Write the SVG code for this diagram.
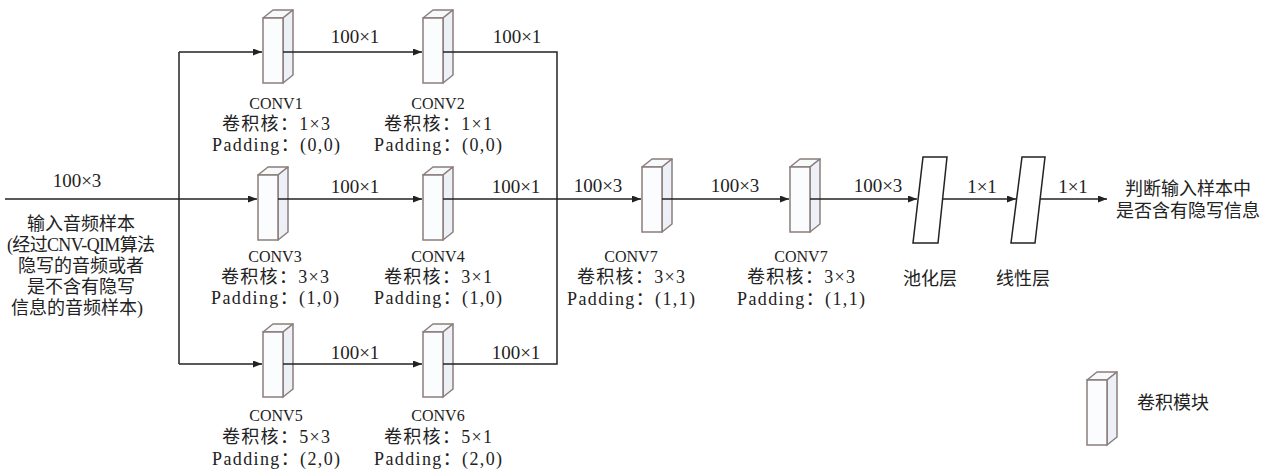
<svg xmlns="http://www.w3.org/2000/svg" xmlns:xlink="http://www.w3.org/1999/xlink" width="1273" height="471" viewBox="0 0 1273 471">
<style>
.bg{fill:#ffffff}
.ln{fill:none;stroke:#222;stroke-width:1.5}
.front{fill:#fbfcfe;stroke:#8b7d7b;stroke-width:1.5}
.side{fill:#edf1f7;stroke:#8b7d7b;stroke-width:1.5;stroke-linejoin:round}
.top{fill:#f7f9fb;stroke:#8b7d7b;stroke-width:1.5;stroke-linejoin:round}
.para{fill:#ffffff;stroke:#222;stroke-width:1.5}
.t{font-family:"Liberation Serif","Noto Sans CJK SC",serif;font-size:18px;fill:#222;text-anchor:middle}
.n{font-family:"Liberation Serif","Noto Sans CJK SC",serif;font-size:19px;fill:#222;text-anchor:middle}
.cv{font-family:"Liberation Serif",serif;font-size:16px;fill:#222;text-anchor:middle}
</style>
<defs>
<marker id="arr" markerUnits="userSpaceOnUse" markerWidth="10" markerHeight="8" refX="9" refY="3.5" orient="auto">
<path d="M0,0 L9,3.5 L0,7 z" fill="#222"/>
</marker>
<g id="box">
<polygon class="top" points="0,0 10,-8 30,-8 20,0"/>
<polygon class="side" points="20,0 30,-8 30,57 20,65"/>
<rect class="front" x="0" y="0" width="20" height="65"/>
</g>
</defs>
<rect class="bg" x="0" y="0" width="1273" height="471"/>

<g id="input">
<text class="n" x="77" y="187">100×3</text>
<text class="t" x="81" y="230">输入音频样本</text>
<text class="t" x="81" y="251" textLength="148">(经过CNV-QIM算法</text>
<text class="t" x="81" y="272">隐写的音频或者</text>
<text class="t" x="81" y="293">是不含有隐写</text>
<text class="t" x="77" y="314">信息的音频样本)</text>
</g>

<g id="conv1">
<use xlink:href="#box" x="263" y="18"/>
<text class="cv" x="276" y="109">CONV1</text>
<text class="t" x="276" y="130" textLength="108">卷积核：1×3</text>
<text class="t" x="276" y="151" textLength="128">Padding：(0,0)</text>
</g>
<g id="conv2">
<use xlink:href="#box" x="423" y="18"/>
<text class="cv" x="438" y="109">CONV2</text>
<text class="t" x="438" y="130" textLength="108">卷积核：1×1</text>
<text class="t" x="438" y="151" textLength="128">Padding：(0,0)</text>
</g>
<g id="conv3">
<use xlink:href="#box" x="258" y="175"/>
<text class="cv" x="275" y="262">CONV3</text>
<text class="t" x="275" y="283" textLength="108">卷积核：3×3</text>
<text class="t" x="275" y="304" textLength="128">Padding：(1,0)</text>
</g>
<g id="conv4">
<use xlink:href="#box" x="423" y="175"/>
<text class="cv" x="438" y="262">CONV4</text>
<text class="t" x="438" y="283" textLength="108">卷积核：3×1</text>
<text class="t" x="438" y="304" textLength="128">Padding：(1,0)</text>
</g>
<g id="conv5">
<use xlink:href="#box" x="263" y="332"/>
<text class="cv" x="276" y="421">CONV5</text>
<text class="t" x="276" y="443" textLength="108">卷积核：5×3</text>
<text class="t" x="276" y="465" textLength="128">Padding：(2,0)</text>
</g>
<g id="conv6">
<use xlink:href="#box" x="423" y="332"/>
<text class="cv" x="438" y="421">CONV6</text>
<text class="t" x="438" y="443" textLength="108">卷积核：5×1</text>
<text class="t" x="438" y="465" textLength="128">Padding：(2,0)</text>
</g>
<g id="conv7a">
<use xlink:href="#box" x="642" y="167"/>
<text class="cv" x="631" y="262">CONV7</text>
<text class="t" x="631" y="283" textLength="108">卷积核：3×3</text>
<text class="t" x="631" y="305" textLength="128">Padding：(1,1)</text>
</g>
<g id="conv7b">
<use xlink:href="#box" x="790" y="167"/>
<text class="cv" x="801" y="262">CONV7</text>
<text class="t" x="801" y="283" textLength="108">卷积核：3×3</text>
<text class="t" x="801" y="305" textLength="128">Padding：(1,1)</text>
</g>
<g id="pool">
<polygon class="para" points="923,157 947,157 938,243 913,243"/>
<text class="t" x="930" y="285">池化层</text>
</g>
<g id="linear">
<polygon class="para" points="1022,157 1045,157 1035,243 1011,243"/>
<text class="t" x="1023" y="285">线性层</text>
</g>
<g id="output">
<text class="t" x="1188" y="195">判断输入样本中</text>
<text class="t" x="1188" y="217">是否含有隐写信息</text>
</g>
<g id="legend">
<use xlink:href="#box" x="1087" y="380"/>
<text class="t" x="1173" y="409">卷积模块</text>
</g>

<g id="connectors">
<path class="ln" d="M5,199 H257" marker-end="url(#arr)"/>
<path class="ln" d="M179,52 V364"/>
<path class="ln" d="M179,52 H262" marker-end="url(#arr)"/>
<path class="ln" d="M179,364 H262" marker-end="url(#arr)"/>
<path class="ln" d="M283,52 H422" marker-end="url(#arr)"/>
<path class="ln" d="M278,199 H422" marker-end="url(#arr)"/>
<path class="ln" d="M283,364 H422" marker-end="url(#arr)"/>
<path class="ln" d="M443,52 H557 V364 H443"/>
<path class="ln" d="M443,199 H641" marker-end="url(#arr)"/>
<path class="ln" d="M662,199 H789" marker-end="url(#arr)"/>
<path class="ln" d="M810,199 H917" marker-end="url(#arr)"/>
<path class="ln" d="M943,199 H1016" marker-end="url(#arr)"/>
<path class="ln" d="M1040,199 H1107" marker-end="url(#arr)"/>
<text class="n" x="355" y="43">100×1</text>
<text class="n" x="517" y="43">100×1</text>
<text class="n" x="355" y="193">100×1</text>
<text class="n" x="516" y="193">100×1</text>
<text class="n" x="355" y="359">100×1</text>
<text class="n" x="516" y="359">100×1</text>
<text class="n" x="598" y="192">100×3</text>
<text class="n" x="735" y="192">100×3</text>
<text class="n" x="878" y="192">100×3</text>
<text class="n" x="982" y="193">1×1</text>
<text class="n" x="1073" y="193">1×1</text>
</g>
</svg>
